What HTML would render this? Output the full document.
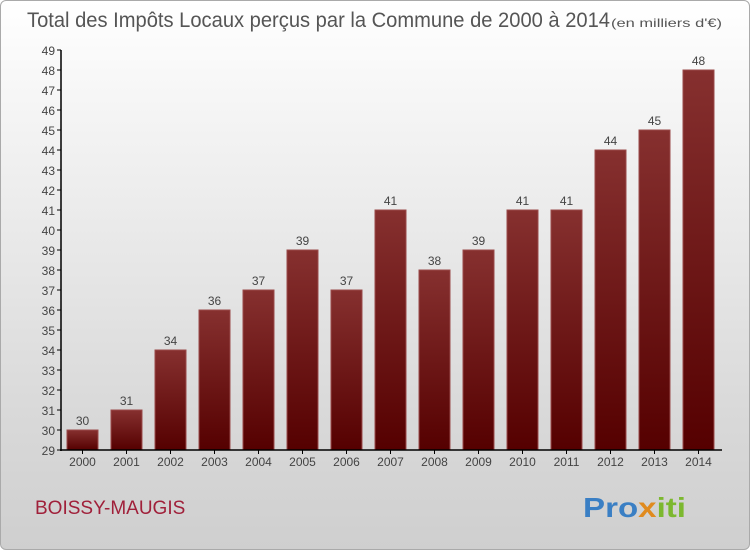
<!DOCTYPE html>
<html><head><meta charset="utf-8"><style>
body{margin:0;width:750px;height:550px;overflow:hidden;font-family:"Liberation Sans",sans-serif}
#wrap{position:absolute;left:0;top:0;width:748px;height:548px;border:1px solid #aaa;border-radius:6px;background:linear-gradient(#ffffff,#f2f2f2 25%,#d9d9d9 75%,#cfcfcf);}
</style></head><body>
<div id="wrap"></div>
<svg id="c" width="750" height="550" style="position:absolute;left:0;top:0">
<defs><linearGradient id="g" x1="0" y1="0" x2="0" y2="1"><stop offset="0" stop-color="#86302f"/><stop offset="1" stop-color="#550000"/></linearGradient></defs>
<text x="27" y="27" font-size="21" fill="#555" textLength="583" lengthAdjust="spacingAndGlyphs">Total des Impôts Locaux perçus par la Commune de 2000 à 2014</text>
<text x="611" y="27" font-size="12" fill="#555" textLength="111" lengthAdjust="spacingAndGlyphs">(en milliers d'€)</text>
<text x="35" y="514" font-size="19" fill="#a0203a">BOISSY-MAUGIS</text>
<text x="583" y="517" font-size="28" font-weight="bold" textLength="103" lengthAdjust="spacingAndGlyphs"><tspan fill="#3a7fc4">Pro</tspan><tspan fill="#e08a1e">x</tspan><tspan fill="#7cb82f">iti</tspan></text>
<g id="plot"></g>
</svg>
<script>
const years=["2000","2001","2002","2003","2004","2005","2006","2007","2008","2009","2010","2011","2012","2013","2014"];
const values=[30,31,34,36,37,39,37,41,38,39,41,41,44,45,48];
const ticks=[29,30,31,32,33,34,35,36,37,38,39,40,41,42,43,44,45,46,47,48,49];
const NS="http://www.w3.org/2000/svg",p=document.getElementById('plot');
const y=v=>450-(v-29)*20, x=i=>61+i*44;
function el(t,a){const e=document.createElementNS(NS,t);for(const k in a)e.setAttribute(k,a[k]);p.appendChild(e);return e;}
years.forEach((yr,i)=>{
 const r=el('rect',{x:x(i)+6,y:y(values[i]),width:31,height:450-y(values[i]),fill:'url(#g)',stroke:'#9a4a4a','stroke-width':1});
 
 
 const t=el('text',{x:x(i)+21.5,y:y(values[i])-5,'font-size':12,fill:'#444','text-anchor':'middle'});t.textContent=values[i];
 
 
 const l=el('text',{x:x(i)+21.5,y:466,'font-size':12,fill:'#444','text-anchor':'middle'});l.textContent=yr;
 
 
 el('line',{x1:x(i)+21.5,x2:x(i)+21.5,y1:450,y2:454,stroke:'#000'});
});
ticks.forEach(v=>{
 el('line',{x1:57,x2:61,y1:y(v),y2:y(v),stroke:'#000'});
 const t=el('text',{x:55,y:y(v)+5,'font-size':12,fill:'#444','text-anchor':'end'});t.textContent=v;
 
 
});
const ya=el('line',{x1:61,x2:61,y1:50,y2:451,stroke:'#000','stroke-width':1.5});


const xa=el('line',{x1:60,x2:722,y1:450,y2:450,stroke:'#000','stroke-width':1.5});


</script>
</body></html>
